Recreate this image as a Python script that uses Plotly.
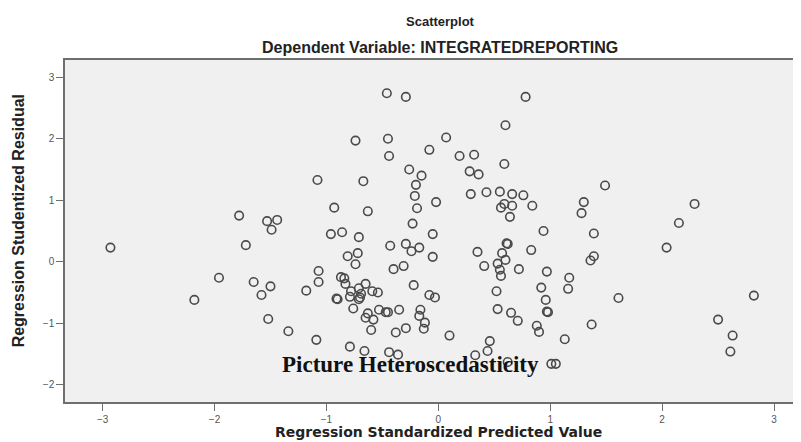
import plotly.graph_objects as go

# Regression Standardized Predicted Value
pred = [
    -2.93, -1.78, -1.53, -1.44, -1.49, -1.72, -1.96, -1.65, -1.50, -1.58, -2.18, -1.52, -1.34, -1.18,
    -0.46, -0.29, -0.74, -0.45, 0.07, -0.08, -0.44, -0.26, -0.15, -1.08, -0.67, -0.20, -0.21, -0.02,
    -0.19, -0.93, -0.63, -0.23, -0.96, -0.86, -0.71, -0.05, -0.43, -0.29, -0.24, -0.17, -0.05, -0.81,
    -0.72, -0.74, -0.40, -0.31, -1.07, -1.07, -0.87, -0.84, -0.83, -0.65, -0.71, -0.78, -0.59, -0.54,
    -0.69, -0.79, -0.91, -0.90, -0.71, -0.70, -0.22, -0.08, -0.03, -0.76, -0.63, -0.53, -0.47, -0.45,
    -0.35, -0.65, -0.58, -0.16, -0.17, -0.12, -0.13, -0.29, -0.38, -0.60, -1.09, -0.79, -0.66, -0.44,
    -0.36, 0.10,
    0.78, 0.60, 0.19, 0.32, 0.59, 0.28, 0.36, 0.29, 0.43, 0.55, 0.66, 0.76, 0.59, 0.56, 0.66, 0.84,
    0.64, 1.30, 1.28, 0.94, 1.39, 0.61, 0.62, 0.35, 0.57, 0.83, 0.60, 0.53, 0.41, 0.55, 0.56, 0.72,
    0.97, 1.39, 1.36, 1.17, 1.16, 0.92, 0.52, 0.96, 0.53, 0.65, 0.97, 0.98, 0.71, 0.88, 0.90, 1.37,
    1.13, 0.46, 0.44, 0.33, 1.01, 1.05, 0.62, 1.49,
    2.29, 2.15, 2.04, 1.61, 2.82, 2.50, 2.63, 2.61,
]

# Regression Studentized Residual
resid = [
    0.23, 0.75, 0.66, 0.68, 0.52, 0.27, -0.26, -0.33, -0.40, -0.54, -0.62, -0.93, -1.13, -0.47,
    2.74, 2.68, 1.97, 2.00, 2.02, 1.82, 1.72, 1.50, 1.40, 1.33, 1.31, 1.25, 1.07, 0.97,
    0.87, 0.88, 0.82, 0.62, 0.45, 0.48, 0.40, 0.45, 0.26, 0.29, 0.17, 0.23, 0.08, 0.09,
    0.14, -0.04, -0.12, -0.07, -0.15, -0.33, -0.25, -0.27, -0.36, -0.36, -0.43, -0.48, -0.48, -0.50,
    -0.52, -0.57, -0.60, -0.61, -0.61, -0.58, -0.38, -0.54, -0.58, -0.76, -0.84, -0.78, -0.82, -0.82,
    -0.78, -0.91, -0.94, -0.78, -0.88, -0.99, -1.09, -1.08, -1.15, -1.11, -1.27, -1.38, -1.45, -1.47,
    -1.51, -1.20,
    2.68, 2.22, 1.72, 1.74, 1.59, 1.47, 1.42, 1.10, 1.13, 1.14, 1.10, 1.08, 0.94, 0.88, 0.91, 0.91,
    0.73, 0.97, 0.79, 0.50, 0.46, 0.30, 0.29, 0.16, 0.14, 0.19, 0.03, -0.03, -0.07, -0.13, -0.23, -0.12,
    -0.16, 0.09, 0.02, -0.26, -0.44, -0.42, -0.48, -0.62, -0.77, -0.83, -0.81, -0.82, -0.96, -1.04, -1.14, -1.02,
    -1.26, -1.29, -1.45, -1.52, -1.66, -1.66, -1.63, 1.24,
    0.94, 0.63, 0.23, -0.59, -0.55, -0.94, -1.20, -1.46,
]

x_ticks = [-3, -2, -1, 0, 1, 2, 3]
y_ticks = [-2, -1, 0, 1, 2, 3]

title_main = "Scatterplot"
title_sub = "Dependent Variable: INTEGRATEDREPORTING"
x_title = "Regression Standardized Predicted Value"
y_title = "Regression Studentized Residual"
note = "Picture Heteroscedasticity"

fig = go.Figure()
fig.add_trace(go.Scatter(
    x=pred, y=resid, mode="markers",
    marker=dict(symbol="circle-open", size=8.5, color="#4a4a4a", line=dict(width=1.6, color="#4a4a4a")),
    showlegend=False, hoverinfo="x+y",
))

axis_common = dict(
    showgrid=False, zeroline=False, showline=True, linecolor="#6e6e6e", linewidth=1.5,
    ticks="outside", ticklen=7, tickwidth=1.2, tickcolor="#6e6e6e",
    tickfont=dict(family="Liberation Sans, Arial, sans-serif", size=10, color="#555555"),
)

# the page body adds an 8px offset; the figure is sized so it fits the window without scrollbars
fig.update_layout(
    width=793, height=434,
    margin=dict(l=57, r=0, t=52, b=40),
    paper_bgcolor="white", plot_bgcolor="#f0f0f0",
    xaxis=dict(range=[-3.336, 3.241], tickvals=x_ticks, mirror=True, **axis_common),
    yaxis=dict(range=[-2.28, 3.28], tickvals=y_ticks, **axis_common),
    annotations=[
        dict(text="<b>%s</b>" % title_main, xref="paper", yref="paper", x=0.51, y=1.114,
             xanchor="center", yanchor="middle", showarrow=False,
             font=dict(family="Liberation Sans, Arial, sans-serif", size=13, color="#222")),
        dict(text="<b>%s</b>" % title_sub, xref="paper", yref="paper", x=0.51, y=1.036,
             xanchor="center", yanchor="middle", showarrow=False,
             font=dict(family="Liberation Sans, Arial, sans-serif", size=16, color="#222")),
        dict(text="<b>%s</b>" % x_title, xref="paper", yref="paper", x=0.508, y=-0.088,
             xanchor="center", yanchor="middle", showarrow=False,
             font=dict(family="DejaVu Sans, sans-serif", size=14, color="#222")),
        dict(text="<b>%s</b>" % y_title, xref="paper", yref="paper", x=-0.063, y=0.53,
             xanchor="center", yanchor="middle", showarrow=False, textangle=-90,
             font=dict(family="Liberation Sans Narrow, Arial Narrow, sans-serif", size=16, color="#222")),
        dict(text="<b>%s</b>" % note, xref="paper", yref="paper", x=0.47, y=0.11,
             xanchor="center", yanchor="middle", showarrow=False,
             font=dict(family="Liberation Serif, Times New Roman, serif", size=23, color="#111")),
    ],
)

fig.write_html("out.html")
